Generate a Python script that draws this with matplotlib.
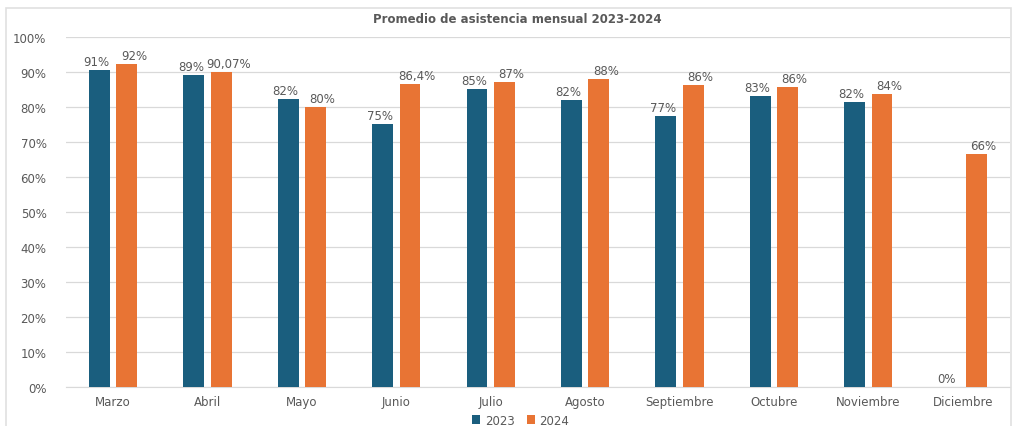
import numpy as np
import matplotlib.pyplot as plt
from matplotlib.patches import Rectangle

meses = ["Marzo", "Abril", "Mayo", "Junio", "Julio", "Agosto",
         "Septiembre", "Octubre", "Noviembre", "Diciembre"]
val_2023 = [90.6, 89.0, 82.2, 75.1, 85.1, 82.1, 77.4, 83.2, 81.5, 0.0]
val_2024 = [92.2, 90.07, 80.0, 86.4, 87.1, 88.0, 86.2, 85.8, 83.7, 66.5]
etiq_2023 = ["91%", "89%", "82%", "75%", "85%", "82%", "77%", "83%", "82%", "0%"]
etiq_2024 = ["92%", "90,07%", "80%", "86,4%", "87%", "88%", "86%", "86%", "84%", "66%"]

AZUL = "#1a5e7e"
NARANJA = "#e87434"
GRIS = "#595959"

plt.rcParams['font.family'] = ['DejaVu Sans']

fig = plt.figure(figsize=(10.15, 4.27), dpi=100)
ax = fig.add_axes([0.065, 0.0913, 0.93, 0.82])

x = np.arange(len(meses))
w = 0.22
off = 0.145
b1 = ax.bar(x - off, val_2023, w, color=AZUL, label="2023", zorder=3)
b2 = ax.bar(x + off, val_2024, w, color=NARANJA, label="2024", zorder=3)

# etiquetas: las de 2023 un poco a la izquierda, las de 2024 a la derecha
for bars, labs, dx in ((b1, etiq_2023, -3), (b2, etiq_2024, 7)):
    for b, t in zip(bars, labs):
        ax.annotate(t, (b.get_x() + b.get_width() / 2, b.get_height()),
                    xytext=(dx, 2), textcoords="offset pixels",
                    ha="center", va="bottom", fontsize=8.5, color=GRIS)

ax.set_xlim(-0.5, len(meses) - 0.5)
ax.set_ylim(0, 100)
ax.set_yticks(range(0, 101, 10))
ax.set_yticklabels([f"{v}%" for v in range(0, 101, 10)])
ax.set_xticks(x)
ax.set_xticklabels(meses)
ax.tick_params(axis="both", length=0, labelsize=8.5, colors=GRIS)
ax.tick_params(axis="y", pad=14)
ax.tick_params(axis="x", pad=6)
ax.grid(axis="y", color="#d9d9d9", linewidth=0.9, zorder=0)
for s in ("top", "right", "left"):
    ax.spines[s].set_visible(False)
ax.spines["bottom"].set_color("#d9d9d9")

fig.text(0.51, 0.955, "Promedio de asistencia mensual 2023-2024",
         ha="center", va="center", fontsize=8.5, fontweight="bold", color=GRIS)

fig.legend(loc="center", bbox_to_anchor=(0.513, 0.014), ncol=2, frameon=False,
           fontsize=8.5, labelcolor=GRIS, handlelength=0.7, handleheight=0.7,
           columnspacing=1.0, handletextpad=0.4, borderpad=0)

fig.patches.append(Rectangle((0.006, -0.01), 0.99, 0.99, transform=fig.transFigure,
                             fill=False, edgecolor="#e0e0e0", linewidth=1.2))

fig.savefig("out.png", dpi=100)
